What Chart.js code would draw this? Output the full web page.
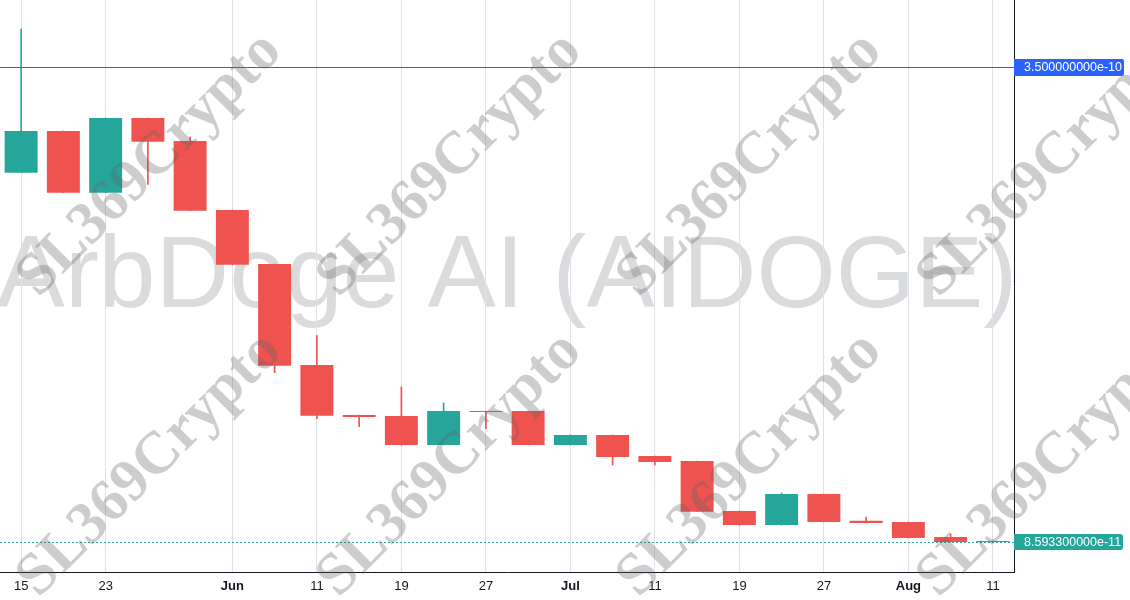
<!DOCTYPE html>
<html>
<head>
<meta charset="utf-8">
<title>ArbDoge AI (AIDOGE)</title>
<script src="https://cdn.jsdelivr.net/npm/chart.js@4"></script>
<style>
  html, body { margin: 0; padding: 0; background: #fff; }
  #wrap { width: 1130px; height: 600px; }
</style>
</head>
<body>
<div id="wrap"><canvas id="myChart"></canvas></div>
<script>
// candle labels (one candle every 4 days)
const days = ['15', '', '23', '', '', 'Jun', '', '11', '', '19', '', '27', '', 'Jul', '', '11', '', '19', '', '27', '', 'Aug', '', '11'];
const months = ['Jun', 'Jul', 'Aug'];

const opens  = [2.9124e-10, 3.1442e-10, 2.8012e-10, 3.2165e-10, 3.0886e-10, 2.7050e-10, 2.4048e-10, 1.8433e-10, 1.5654e-10, 1.5598e-10, 1.3986e-10, 1.5876e-10, 1.5876e-10, 1.3986e-10, 1.4542e-10, 1.3374e-10, 1.3096e-10, 1.0317e-10, 0.9538e-10, 1.1262e-10, 0.9778e-10, 0.9705e-10, 0.8871e-10, 0.85933e-10];
const highs  = [3.7113e-10, 3.1442e-10, 3.2165e-10, 3.2165e-10, 3.1109e-10, 2.7050e-10, 2.4048e-10, 2.0062e-10, 1.5654e-10, 1.7210e-10, 1.6321e-10, 1.5876e-10, 1.5876e-10, 1.4542e-10, 1.4542e-10, 1.3374e-10, 1.3096e-10, 1.0317e-10, 1.1317e-10, 1.1262e-10, 0.9983e-10, 0.9705e-10, 0.9038e-10, 0.85933e-10];
const lows   = [2.9124e-10, 2.8012e-10, 2.8012e-10, 2.8479e-10, 2.7011e-10, 2.4009e-10, 1.8005e-10, 1.5448e-10, 1.5003e-10, 1.3986e-10, 1.3986e-10, 1.4892e-10, 1.3986e-10, 1.3986e-10, 1.2874e-10, 1.2874e-10, 1.0278e-10, 0.9538e-10, 0.9538e-10, 0.9705e-10, 0.9650e-10, 0.8816e-10, 0.8590e-10, 0.85933e-10];
const closes = [3.1442e-10, 2.8012e-10, 3.2165e-10, 3.0847e-10, 2.7011e-10, 2.4009e-10, 1.8394e-10, 1.5615e-10, 1.5542e-10, 1.3986e-10, 1.5876e-10, 1.5820e-10, 1.3986e-10, 1.4542e-10, 1.3319e-10, 1.3041e-10, 1.0278e-10, 0.9538e-10, 1.1262e-10, 0.9705e-10, 0.9650e-10, 0.8816e-10, 0.8600e-10, 0.85933e-10];

const markPrice = 3.5e-10;
const lastPrice = 8.5933e-11;
const yMin = 0.69255e-10;
const yMax = 3.8725e-10;

const up = '#26a69a';
const down = '#ef5350';
const colors = opens.map((o, i) => closes[i] >= o ? up : down);

function box(ctx, x, y, w, h, r, color) {
  ctx.fillStyle = color;
  ctx.beginPath();
  if (ctx.roundRect) ctx.roundRect(x, y, w, h, [0, r, r, 0]);
  else ctx.rect(x, y, w, h);
  ctx.fill();
}

const decor = {
  id: 'decor',
  beforeDraw(chart) {
    const ctx = chart.ctx;
    const a = chart.chartArea;
    ctx.save();
    ctx.fillStyle = '#fff';
    ctx.fillRect(0, 0, chart.width, chart.height);
    // symbol watermark
    ctx.fillStyle = '#dadbdd';
    ctx.font = '102px "Liberation Sans", Arial, sans-serif';
    ctx.textAlign = 'center';
    ctx.textBaseline = 'alphabetic';
    ctx.fillText('ArbDoge AI (AIDOGE)', (a.left + a.right) / 2, 307);
    ctx.restore();
  },
  afterDatasetsDraw(chart) {
    const ctx = chart.ctx;
    const a = chart.chartArea;
    const y = chart.scales.y;
    ctx.save();
    // price line
    let py = Math.round(y.getPixelForValue(markPrice)) + 0.5;
    ctx.strokeStyle = '#2962ff';
    ctx.lineWidth = 1;
    ctx.beginPath();
    ctx.moveTo(a.left, py);
    ctx.lineTo(a.right, py);
    ctx.stroke();
    // last price dotted line
    let ly = Math.round(y.getPixelForValue(lastPrice)) + 0.5;
    ctx.strokeStyle = up;
    ctx.setLineDash([2, 2]);
    ctx.beginPath();
    ctx.moveTo(a.left, ly);
    ctx.lineTo(a.right, ly);
    ctx.stroke();
    ctx.restore();
  },
  afterDraw(chart) {
    const ctx = chart.ctx;
    const a = chart.chartArea;
    const y = chart.scales.y;
    ctx.save();
    let py = Math.round(y.getPixelForValue(markPrice));
    let ly = Math.round(y.getPixelForValue(lastPrice));
    box(ctx, a.right, py - 8, 110, 17, 2, '#2962ff');
    box(ctx, a.right, ly - 8, 109, 16, 3, up);
    ctx.fillStyle = '#fff';
    ctx.font = '12.5px "Liberation Sans", Arial, sans-serif';
    ctx.textAlign = 'left';
    ctx.textBaseline = 'middle';
    ctx.fillText('3.500000000e-10', a.right + 10, py + 0.5);
    ctx.fillText('8.593300000e-11', a.right + 10, ly + 0.5);

    // author watermarks
    ctx.fillStyle = 'rgba(100,100,100,0.32)';
    ctx.font = 'bold 60px "Liberation Serif", "DejaVu Serif", serif';
    ctx.textAlign = 'center';
    ctx.textBaseline = 'middle';
    [165, 465].forEach(cy => {
      [150, 450, 750, 1050].forEach(cx => {
        ctx.save();
        ctx.translate(cx, cy);
        ctx.rotate(-Math.PI / 4);
        ctx.fillText('SL369Crypto', 0, 0);
        ctx.restore();
      });
    });
    ctx.restore();
  }
};

const ctx = document.getElementById('myChart');

new Chart(ctx, {
  type: 'bar',
  data: {
    labels: days,
    datasets: [{
      label: 'wick',
      data: lows.map((l, i) => [l, highs[i]]),
      backgroundColor: colors,
      barThickness: 1,
      minBarLength: 1,
      grouped: false,
      order: 2
    }, {
      label: 'body',
      data: opens.map((o, i) => [o, closes[i]]),
      backgroundColor: colors,
      barPercentage: 0.78,
      categoryPercentage: 1,
      minBarLength: 1,
      grouped: false,
      order: 1
    }]
  },
  options: {
    responsive: true,
    maintainAspectRatio: false,
    animation: false,
    layout: { padding: 0 },
    plugins: {
      legend: { display: false },
      tooltip: { enabled: false }
    },
    scales: {
      x: {
        offset: true,
        afterFit(scale) { scale.height = 28; },
        grid: {
          offset: false,
          drawTicks: false,
          color: c => (c.tick && c.tick.label) ? '#dfe2e6' : 'rgba(0,0,0,0)'
        },
        border: { display: true, color: '#131722', width: 1 },
        ticks: {
          autoSkip: false,
          maxRotation: 0,
          padding: 7,
          color: '#131722',
          font: c => ({
            family: '"Liberation Sans Narrow", "Liberation Sans", Arial, sans-serif',
            size: 13,
            weight: (c.tick && months.includes(c.tick.label)) ? 'bold' : 'normal'
          })
        }
      },
      y: {
        position: 'right',
        min: yMin,
        max: yMax,
        afterFit(scale) { scale.width = 116; },
        grid: { display: false },
        border: { display: true, color: '#131722', width: 1 },
        ticks: { display: false }
      }
    }
  },
  plugins: [decor]
});
</script>
</body>
</html>
